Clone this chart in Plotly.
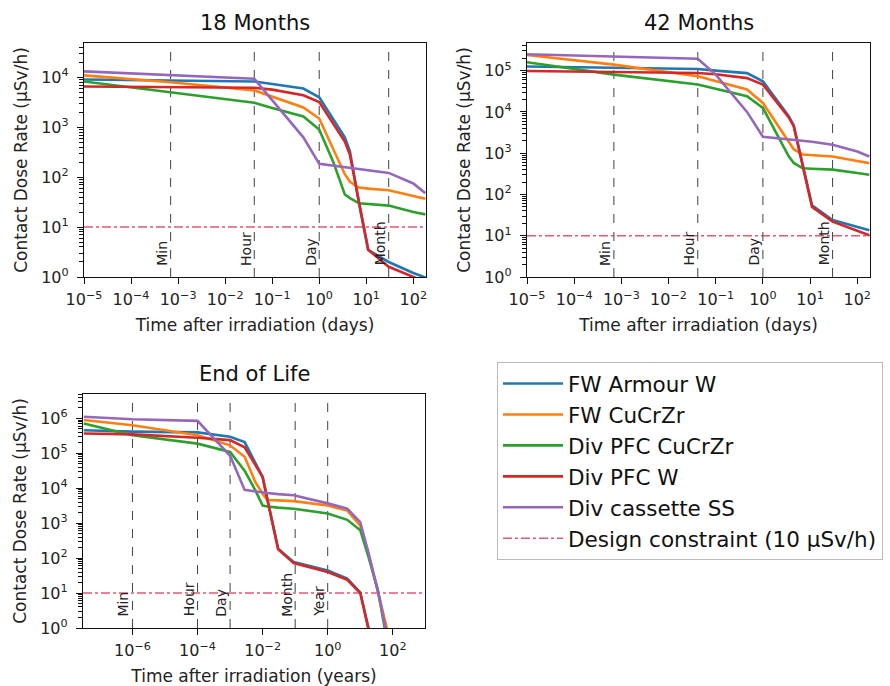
import math
import plotly.graph_objects as go

# ---------------- data ----------------
series_names = ["FW Armour W", "FW CuCrZr", "Div PFC CuCrZr", "Div PFC W", "Div cassette SS"]
series_colors = ["#1f77b4", "#ff7f0e", "#2ca02c", "#d62728", "#9467bd"]

# time after irradiation (days) for the 18 and 42 month panels
t_days = [1e-5, 6.94e-4, 0.0417, 0.1, 0.46, 1, 2, 3.5, 4.5, 7, 11, 30, 100, 180]

m18_fw_armour_w = [9100, 8700, 8300, 7400, 6000, 4000, 1450, 630, 330, 30, 3.5, 2.0, 1.2, 0.98]
m18_fw_cucrzr = [11000, 8000, 5500, 4100, 2500, 1500, 360, 115, 81, 62, 59, 55, 42, 37]
m18_div_pfc_cucrzr = [8300, 5000, 3100, 2450, 1650, 900, 200, 45, 38, 30, 29, 27, 20, 18]
m18_div_pfc_w = [6600, 6400, 6200, 5700, 4400, 3200, 1150, 520, 280, 30, 3.5, 1.6, 1.0, 0.8]
m18_div_cassette_ss = [13200, 11000, 9400, 3500, 630, 185, 170, 160, 155, 145, 140, 122, 75, 48]

m42_fw_armour_w = [1.26e5, 1.17e5, 1.1e5, 1.0e5, 8.7e4, 5.5e4, 1.9e4, 8000, 4700, 520, 55, 24, 16, 13.5]
m42_fw_cucrzr = [2.4e5, 1.4e5, 7.3e4, 5.5e4, 3.5e4, 1.65e4, 5100, 2000, 1250, 930, 890, 830, 650, 575]
m42_div_pfc_cucrzr = [1.6e5, 8e4, 4.6e4, 3.6e4, 2.4e4, 1.25e4, 2800, 850, 580, 430, 420, 400, 330, 300]
m42_div_pfc_w = [9.8e4, 9.4e4, 8.8e4, 8.2e4, 6.6e4, 4.6e4, 1.7e4, 7500, 4500, 500, 50, 22, 13, 10.3]
m42_div_cassette_ss = [2.5e5, 2.2e5, 1.95e5, 8e4, 1e4, 2500, 2300, 2150, 2100, 2000, 1900, 1600, 1100, 830]

# time after irradiation (years) for the end-of-life panel
t_years = [3.2e-8, 1e-6, 1e-4, 1e-3, 2.8e-3, 6e-3, 1e-2, 1.4e-2, 3e-2, 9e-2, 1, 4, 10, 18, 35, 60, 100]

eol_fw_armour_w = [4.6e5, 4.2e5, 4.0e5, 3.0e5, 2.1e5, 5.5e4, 2.1e4, 4900, 185, 78, 44, 26, 10.5, 1.0, 0.07, 0.005, 0.001]
eol_fw_cucrzr = [9e5, 6.4e5, 3.3e5, 1.7e5, 8e4, 1.5e4, 7000, 4600, 4500, 4300, 3200, 2300, 850, 125, 11, 1.3, 0.2]
eol_div_pfc_cucrzr = [7.2e5, 3.3e5, 1.9e5, 1.1e5, 3.2e4, 8700, 3200, 3000, 2800, 2600, 1900, 1250, 630, 107, 12, 0.5, 0.05]
eol_div_pfc_w = [3.7e5, 3.5e5, 2.8e5, 2.4e5, 1.5e5, 4.8e4, 2.1e4, 4700, 180, 72, 40, 24, 10, 0.9, 0.06, 0.004, 0.001]
eol_div_cassette_ss = [1.12e6, 9.5e5, 8.5e5, 8.5e4, 9000, 8000, 7600, 7300, 6800, 6300, 3700, 2600, 1070, 140, 11, 0.7, 0.1]

marker_days = [1 / 1440, 1 / 24, 1, 30]
marker_days_labels = ["Min", "Hour", "Day", "Month"]
marker_years = [1e-6, 1e-4, 1e-3, 1e-1, 1]
marker_years_labels = ["Min", "Hour", "Day", "Month", "Year"]

design_constraint = 10
constraint_label = "Design constraint (10 µSv/h)"

panel_titles = ["18 Months", "42 Months", "End of Life"]
x_titles = ["Time after irradiation (days)", "Time after irradiation (days)",
            "Time after irradiation (years)"]
y_title = "Contact Dose Rate (µSv/h)"

days_tick_exps = [-5, -4, -3, -2, -1, 0, 1, 2]
years_tick_exps = [-6, -4, -2, 0, 2]
y_tick_exps = [[0, 1, 2, 3, 4], [0, 1, 2, 3, 4, 5], [0, 1, 2, 3, 4, 5, 6]]

# ---------------- layout geometry ----------------
W, H = 890, 686
FONT = "DejaVu Sans"


def px_x(a, b):
    return [a / W, b / W]


def px_y(top, bottom):
    return [1 - bottom / H, 1 - top / H]


panels = [
    dict(xd=px_x(84, 426), yd=px_y(43, 277), xr=[-5, 2.27], yr=[0, 4.69],
         t=t_days, series=[m18_fw_armour_w, m18_fw_cucrzr, m18_div_pfc_cucrzr, m18_div_pfc_w, m18_div_cassette_ss],
         marks=marker_days, mlabels=marker_days_labels, xt=days_tick_exps),
    dict(xd=px_x(527, 870), yd=px_y(43, 277), xr=[-5, 2.27], yr=[0, 5.67],
         t=t_days, series=[m42_fw_armour_w, m42_fw_cucrzr, m42_div_pfc_cucrzr, m42_div_pfc_w, m42_div_cassette_ss],
         marks=marker_days, mlabels=marker_days_labels, xt=days_tick_exps),
    dict(xd=px_x(83, 425), yd=px_y(394, 628), xr=[-7.52, 2.99], yr=[0, 6.7],
         t=t_years, series=[eol_fw_armour_w, eol_fw_cucrzr, eol_div_pfc_cucrzr, eol_div_pfc_w, eol_div_cassette_ss],
         marks=marker_years, mlabels=marker_years_labels, xt=years_tick_exps),
]


def pow_label(e):
    return "10<sup>" + ("−" if e < 0 else "") + str(abs(e)) + "</sup>"


def minor_vals(exps, top):
    vals = []
    for e in range(min(exps), int(math.ceil(top)) + 1):
        for k in range(2, 10):
            v = k * 10 ** e
            if math.log10(v) < top:
                vals.append(v)
    return vals


fig = go.Figure()
shapes = []
annotations = []
constraint_color = "rgba(215,25,60,0.72)"

for i, p in enumerate(panels):
    sfx = "" if i == 0 else str(i + 1)
    xa, ya = "x" + sfx, "y" + sfx
    # design constraint line
    fig.add_trace(go.Scatter(
        x=[10 ** p["xr"][0], 10 ** p["xr"][1]], y=[design_constraint, design_constraint],
        mode="lines", line=dict(color=constraint_color, width=1.5, dash="dashdot"),
        name=constraint_label, legendgroup="dc", showlegend=(i == 0), legendrank=1006,
        xaxis=xa, yaxis=ya, hoverinfo="skip"))
    for k, (name, col, vals) in enumerate(zip(series_names, series_colors, p["series"])):
        fig.add_trace(go.Scatter(
            x=p["t"], y=vals, mode="lines", line=dict(color=col, width=2.6),
            name=name, legendgroup=name, showlegend=(i == 0), legendrank=1000 + k,
            xaxis=xa, yaxis=ya))
    # time markers
    for tm, lab in zip(p["marks"], p["mlabels"]):
        shapes.append(dict(type="line", xref=xa, yref=ya + " domain", x0=tm, x1=tm, y0=0, y1=1,
                           line=dict(color="rgba(0,0,0,0.75)", width=1, dash="dash"), layer="below"))
        annotations.append(dict(xref=xa, yref=ya + " domain", x=math.log10(tm), y=0.04,
                                text=lab, textangle=-90, showarrow=False, xanchor="right",
                                yanchor="bottom", xshift=1,
                                font=dict(family=FONT, size=14, color="#222")))
    # panel title
    annotations.append(dict(xref="paper", yref="paper", x=sum(p["xd"]) / 2, y=p["yd"][1],
                            text=panel_titles[i], showarrow=False, xanchor="center",
                            yanchor="bottom", yshift=6, font=dict(family=FONT, size=21, color="#111")))

    axis_common = dict(type="log", showgrid=False, zeroline=False, showline=True, mirror=True,
                       automargin=False,
                       linecolor="#111", linewidth=1.3, ticks="outside", ticklen=6, tickwidth=1.2,
                       tickcolor="#111", tickfont=dict(family=FONT, size=16, color="#222"))
    fig.update_layout(**{
        ("xaxis" + sfx): dict(axis_common, domain=p["xd"], range=p["xr"], anchor=ya,
                              tickvals=[10 ** e for e in p["xt"]], ticktext=[pow_label(e) for e in p["xt"]],
                              ticklabelstandoff=2,
                              title=dict(text=x_titles[i], standoff=10,
                                         font=dict(family=FONT, size=17, color="#222"))),
        ("yaxis" + sfx): dict(axis_common, domain=p["yd"], range=p["yr"], anchor=xa,
                              tickvals=[10 ** e for e in y_tick_exps[i]],
                              ticktext=[pow_label(e) for e in y_tick_exps[i]],
                              ticklabelstandoff=5,
                              minor=dict(tickmode="array", tickvals=minor_vals(y_tick_exps[i], p["yr"][1]),
                                         ticks="outside", ticklen=3.5, tickwidth=1, tickcolor="#111",
                                         showgrid=False),
                              title=dict(text=y_title, standoff=9,
                                         font=dict(family=FONT, size=17, color="#222"))),
    })

fig.update_layout(
    width=W, height=H, margin=dict(l=0, r=0, t=0, b=0, autoexpand=False),
    paper_bgcolor="white", plot_bgcolor="white",
    font=dict(family=FONT, color="#222"),
    shapes=shapes, annotations=annotations,
    legend=dict(x=497 / W, y=1 - 362 / H, xanchor="left", yanchor="top",
                font=dict(family=FONT, size=21.5, color="#111"),
                bordercolor="#bbbbbb", borderwidth=1, bgcolor="white",
                tracegroupgap=0, itemwidth=60),
    showlegend=True,
)

fig.write_html("out.html", config={"displayModeBar": False},
               post_script="document.body.style.margin='0px';")
